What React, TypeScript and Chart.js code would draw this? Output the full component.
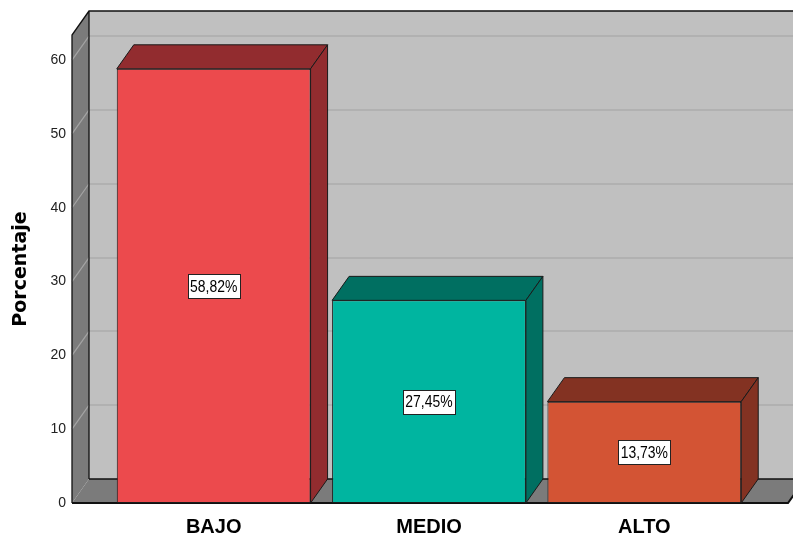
import React, { useEffect, useRef } from "react";
import { Chart, registerables } from "chart.js";

Chart.register(...registerables);

// Datos del gráfico
const categories = ["BAJO", "MEDIO", "ALTO"];
const porcentajes = [58.82, 27.45, 13.73];
const frontColors = ["#ec4a4d", "#00b5a0", "#d35434"];
const shadeColors = ["#922c2f", "#006f61", "#833222"];
const yTickValues = [0, 10, 20, 30, 40, 50, 60];
const yMax = 63.4;

// Profundidad de la perspectiva 3D (px)
const DX = 17;
const DY = 24;
const WALL_GAP = 34;

const fmt = (v: number) => v.toFixed(2).replace(".", ",") + "%";

const scene3d = {
  id: "scene3d",
  beforeDatasetsDraw(chart: any) {
    const { ctx, chartArea, scales } = chart;
    const y = scales.y;
    const top = chartArea.top;
    const bottom = chartArea.bottom;
    const wx = chartArea.left - WALL_GAP;
    const farRight = chartArea.right + 36;
    const W = chart.width + 40;
    ctx.save();
    ctx.lineWidth = 1;

    // pared del fondo
    ctx.fillStyle = "#c0c0c0";
    ctx.fillRect(wx + DX, top - DY, W, bottom - top);

    // líneas de cuadrícula en el fondo
    for (const v of yTickValues) {
      if (v === 0) continue;
      const py = Math.round(y.getPixelForValue(v));
      ctx.strokeStyle = "#b1b1b1";
      ctx.lineWidth = 2;
      ctx.beginPath();
      ctx.moveTo(wx + DX, py - DY);
      ctx.lineTo(W, py - DY);
      ctx.stroke();
    }

    // pared izquierda
    ctx.fillStyle = "#7b7b7b";
    ctx.beginPath();
    ctx.moveTo(wx, top);
    ctx.lineTo(wx + DX, top - DY);
    ctx.lineTo(wx + DX, bottom - DY);
    ctx.lineTo(wx, bottom);
    ctx.closePath();
    ctx.fill();
    for (const v of yTickValues) {
      if (v === 0) continue;
      const py = y.getPixelForValue(v);
      ctx.strokeStyle = "#a4a4a4";
      ctx.lineWidth = 1.2;
      ctx.beginPath();
      ctx.moveTo(wx, py);
      ctx.lineTo(wx + DX, py - DY);
      ctx.stroke();
    }
    ctx.strokeStyle = "#111";
    ctx.lineWidth = 1.3;
    ctx.beginPath();
    ctx.moveTo(wx, bottom);
    ctx.lineTo(wx, top);
    ctx.lineTo(wx + DX, top - DY);
    ctx.lineTo(W, top - DY);
    ctx.moveTo(wx + DX, top - DY);
    ctx.lineTo(wx + DX, bottom - DY);
    ctx.stroke();

    // suelo
    ctx.fillStyle = "#7b7b7b";
    ctx.beginPath();
    ctx.moveTo(wx, bottom);
    ctx.lineTo(wx + DX, bottom - DY);
    ctx.lineTo(farRight + DX, bottom - DY);
    ctx.lineTo(farRight, bottom);
    ctx.closePath();
    ctx.fill();
    ctx.strokeStyle = "#111";
    ctx.lineWidth = 1.3;
    ctx.beginPath();
    ctx.moveTo(wx + DX, bottom - DY);
    ctx.lineTo(farRight + DX, bottom - DY);
    ctx.stroke();
    ctx.lineWidth = 2;
    ctx.beginPath();
    ctx.moveTo(wx, bottom);
    ctx.lineTo(farRight, bottom);
    ctx.lineTo(farRight + DX, bottom - DY);
    ctx.stroke();
    ctx.restore();
  },
  afterDatasetsDraw(chart: any) {
    const { ctx } = chart;
    const meta = chart.getDatasetMeta(0);
    ctx.save();
    meta.data.forEach((bar: any, i: number) => {
      const half = bar.width / 2;
      const l = bar.x - half;
      const r = bar.x + half;
      const t = bar.y;
      const b = bar.base;
      ctx.fillStyle = shadeColors[i];
      ctx.strokeStyle = "#1a1a1a";
      ctx.lineWidth = 1;
      // cara superior
      ctx.beginPath();
      ctx.moveTo(l, t);
      ctx.lineTo(l + DX, t - DY);
      ctx.lineTo(r + DX, t - DY);
      ctx.lineTo(r, t);
      ctx.closePath();
      ctx.fill();
      ctx.stroke();
      // cara lateral
      ctx.beginPath();
      ctx.moveTo(r, t);
      ctx.lineTo(r + DX, t - DY);
      ctx.lineTo(r + DX, b - DY);
      ctx.lineTo(r, b);
      ctx.closePath();
      ctx.fill();
      ctx.stroke();

      // etiqueta de valor (texto estrecho)
      const text = fmt(porcentajes[i]);
      const sx = 0.82;
      ctx.font = "17px 'Liberation Sans', Arial, sans-serif";
      const tw = ctx.measureText(text).width * sx;
      const bw = Math.round(tw + 5);
      const bh = 24;
      const cx = bar.x;
      const cy = (t + b) / 2;
      const bx = Math.round(cx - bw / 2) + 0.5;
      const by = Math.round(cy - bh / 2) + 0.5;
      ctx.fillStyle = "#ffffff";
      ctx.fillRect(bx, by, bw, bh);
      ctx.strokeStyle = "#222";
      ctx.strokeRect(bx, by, bw, bh);
      ctx.save();
      ctx.translate(cx, cy + 1);
      ctx.scale(sx, 1);
      ctx.fillStyle = "#000";
      ctx.textAlign = "center";
      ctx.textBaseline = "middle";
      ctx.fillText(text, 0, 0);
      ctx.restore();
    });
    ctx.restore();
  },
};

export default function App() {
  const ref = useRef<HTMLCanvasElement | null>(null);

  useEffect(() => {
    if (!ref.current) return;
    const chart = new Chart(ref.current, {
      type: "bar",
      data: {
        labels: categories,
        datasets: [
          {
            data: porcentajes,
            backgroundColor: frontColors,
            borderColor: "#1a1a1a",
            borderWidth: 1,
            borderSkipped: false,
            barPercentage: 0.9,
            categoryPercentage: 1,
          },
        ],
      },
      options: {
        responsive: false,
        animation: false,
        events: [],
        layout: { padding: { top: 35, right: 41, left: 0, bottom: 0 } },
        plugins: {
          legend: { display: false },
          tooltip: { enabled: false },
        },
        scales: {
          x: {
            grid: { display: false, drawTicks: false },
            border: { display: false },
            ticks: {
              padding: 12,
              color: "#000",
              font: { family: "'Liberation Sans', Arial, sans-serif", size: 20, weight: "bold" },
            },
            afterFit: (s: any) => {
              s.height = 34;
            },
          },
          y: {
            min: 0,
            max: yMax,
            grid: { display: false, drawTicks: false },
            border: { display: false },
            ticks: {
              stepSize: 10,
              includeBounds: false,
              padding: 40,
              color: "#222",
              font: { family: "'Liberation Sans', Arial, sans-serif", size: 14 },
            },
            title: {
              display: true,
              text: "Porcentaje",
              color: "#000",
              padding: { top: 10, bottom: 0 },
              font: { family: "'DejaVu Sans', sans-serif", size: 19, weight: "bold" },
            },
            afterFit: (s: any) => {
              s.width = 106;
              s.paddingTop = 0;
              s.paddingBottom = 0;
            },
          },
        },
      },
      plugins: [scene3d],
    });
    return () => chart.destroy();
  }, []);

  return (
    <div style={{ position: "fixed", left: 0, top: 0, width: 793, height: 537, background: "#fff" }}>
      <canvas ref={ref} width={793} height={537} style={{ display: "block" }} />
    </div>
  );
}
